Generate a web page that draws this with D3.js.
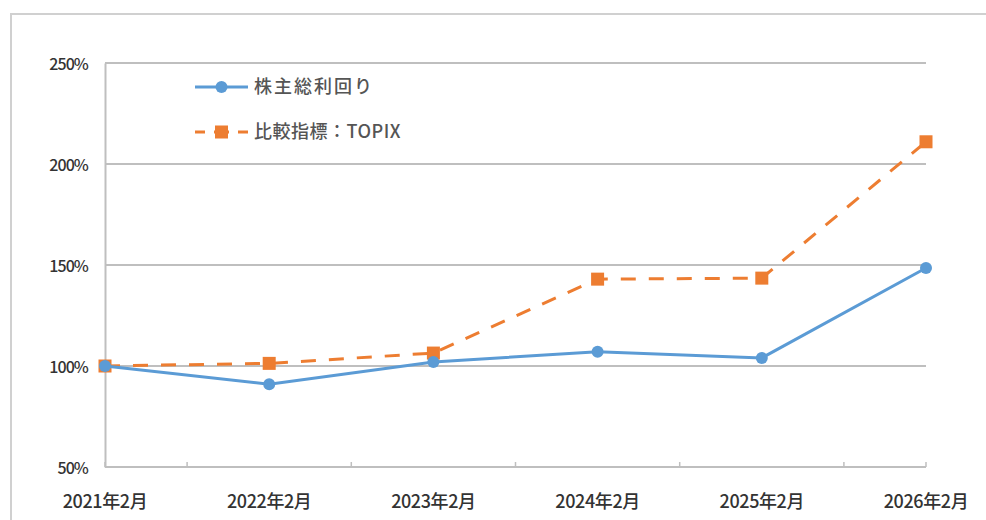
<!DOCTYPE html>
<html>
<head>
<meta charset="utf-8">
<script src="https://cdn.jsdelivr.net/npm/d3@7"></script>
<style>
  body { margin: 0; background: #fff; }
  text { font-family: "Noto Sans CJK JP", "Noto Sans", sans-serif; }
</style>
</head>
<body>
<div id="chart"></div>
<script>
// data
var years = ["2021年2月", "2022年2月", "2023年2月", "2024年2月", "2025年2月", "2026年2月"];
var tsr = [100, 91, 102, 107, 104, 148.5];      // 株主総利回り
var topix = [100, 101.3, 106.4, 143, 143.5, 211]; // 比較指標：TOPIX
var yTicks = [50, 100, 150, 200, 250];
var seriesNames = ["株主総利回り", "比較指標：TOPIX"];

var W = 986, H = 520;
var margin = {top: 63, right: 60, bottom: 53, left: 105},
    width = W - margin.left - margin.right,
    height = H - margin.top - margin.bottom;

var blue = "#5b9bd5", orange = "#ed7d31", grid = "#bfbfbf";

var root = d3.select("#chart").append("svg")
    .attr("width", W).attr("height", H);

// outer chart frame
root.append("rect")
    .attr("x", 11).attr("y", 14)
    .attr("width", 1000).attr("height", 600)
    .attr("fill", "none").attr("stroke", "#d0d0d0").attr("stroke-width", 2);

var svg = root.append("g")
    .attr("transform", "translate(" + margin.left + "," + margin.top + ")");

var x = d3.scalePoint().domain(years).range([0, width]);
var y = d3.scaleLinear().domain([50, 250]).range([height, 0]);

// gridlines
svg.append("g")
  .selectAll("line")
  .data(yTicks.filter(function(d) { return d > 50; }))
  .enter().append("line")
    .attr("x1", 0).attr("x2", width)
    .attr("y1", function(d) { return y(d); })
    .attr("y2", function(d) { return y(d); })
    .attr("stroke", grid).attr("stroke-width", 2);

// y axis
var yAxis = svg.append("g")
    .call(d3.axisLeft(y).tickValues(yTicks).tickSize(0).tickPadding(17)
      .tickFormat(function(d) { return d + "%"; }));
yAxis.select(".domain").attr("stroke", grid).attr("stroke-width", 2);
yAxis.selectAll("text")
    .attr("fill", "#333").style("font-size", "16px")
    .style("font-weight", "500")
    .style("letter-spacing", "-0.9px")
    .attr("dy", "0.42em");

// x axis
svg.append("line")
    .attr("x1", 0).attr("x2", width)
    .attr("y1", height).attr("y2", height)
    .attr("stroke", grid).attr("stroke-width", 2);

// tick marks sit between the categories
var step = x.step();
var tickPos = [x(years[0])];
years.slice(1).forEach(function(d) { tickPos.push(x(d) - step / 2); });
tickPos.push(x(years[years.length - 1]));
svg.append("g")
  .selectAll("line")
  .data(tickPos)
  .enter().append("line")
    .attr("x1", function(d) { return d; })
    .attr("x2", function(d) { return d; })
    .attr("y1", height).attr("y2", height - 5)
    .attr("stroke", grid).attr("stroke-width", 1.5);

svg.append("g")
  .selectAll("text")
  .data(years)
  .enter().append("text")
    .attr("x", function(d) { return x(d); })
    .attr("y", height + 41)
    .attr("text-anchor", "middle")
    .attr("fill", "#333")
    .style("font-size", "18px")
    .style("font-weight", "500")
    .style("letter-spacing", "-0.4px")
    .text(function(d) { return d; });

var line = d3.line()
    .x(function(d, i) { return x(years[i]); })
    .y(function(d) { return y(d); });

// TOPIX dashed
svg.append("path")
    .datum(topix)
    .attr("d", line)
    .attr("fill", "none").attr("stroke", orange)
    .attr("stroke-width", 3).attr("stroke-dasharray", "15,13");
svg.append("g")
  .selectAll("rect")
  .data(topix)
  .enter().append("rect")
    .attr("x", function(d, i) { return x(years[i]) - 6.5; })
    .attr("y", function(d) { return y(d) - 6.5; })
    .attr("width", 13).attr("height", 13)
    .attr("fill", orange);

// TSR solid
svg.append("path")
    .datum(tsr)
    .attr("d", line)
    .attr("fill", "none").attr("stroke", blue).attr("stroke-width", 3);
svg.append("g")
  .selectAll("circle")
  .data(tsr)
  .enter().append("circle")
    .attr("cx", function(d, i) { return x(years[i]); })
    .attr("cy", function(d) { return y(d); })
    .attr("r", 6)
    .attr("fill", blue);

// legend
var legend = root.append("g").attr("transform", "translate(195,87)");
legend.append("line")
    .attr("x1", 0).attr("x2", 53).attr("y1", 0).attr("y2", 0)
    .attr("stroke", blue).attr("stroke-width", 3);
legend.append("circle").attr("cx", 26.5).attr("cy", 0).attr("r", 6).attr("fill", blue);
legend.append("text")
    .attr("x", 59).attr("y", 0).attr("dy", "0.35em")
    .attr("fill", "#555").style("font-size", "18px")
    .style("font-weight", "500")
    .style("letter-spacing", "2px")
    .text(seriesNames[0]);

var leg2 = legend.append("g").attr("transform", "translate(0,45)");
leg2.append("line")
    .attr("x1", 0).attr("x2", 53).attr("y1", 0).attr("y2", 0)
    .attr("stroke", orange).attr("stroke-width", 3)
    .attr("stroke-dasharray", "10,9,15,9,10");
leg2.append("rect").attr("x", 20).attr("y", -6.5).attr("width", 13).attr("height", 13).attr("fill", orange);
leg2.append("text")
    .attr("x", 59).attr("y", 0).attr("dy", "0.35em")
    .attr("fill", "#555").style("font-size", "18px")
    .style("font-weight", "500")
    .style("letter-spacing", "0.5px")
    .text(seriesNames[1]);
</script>
</body>
</html>
